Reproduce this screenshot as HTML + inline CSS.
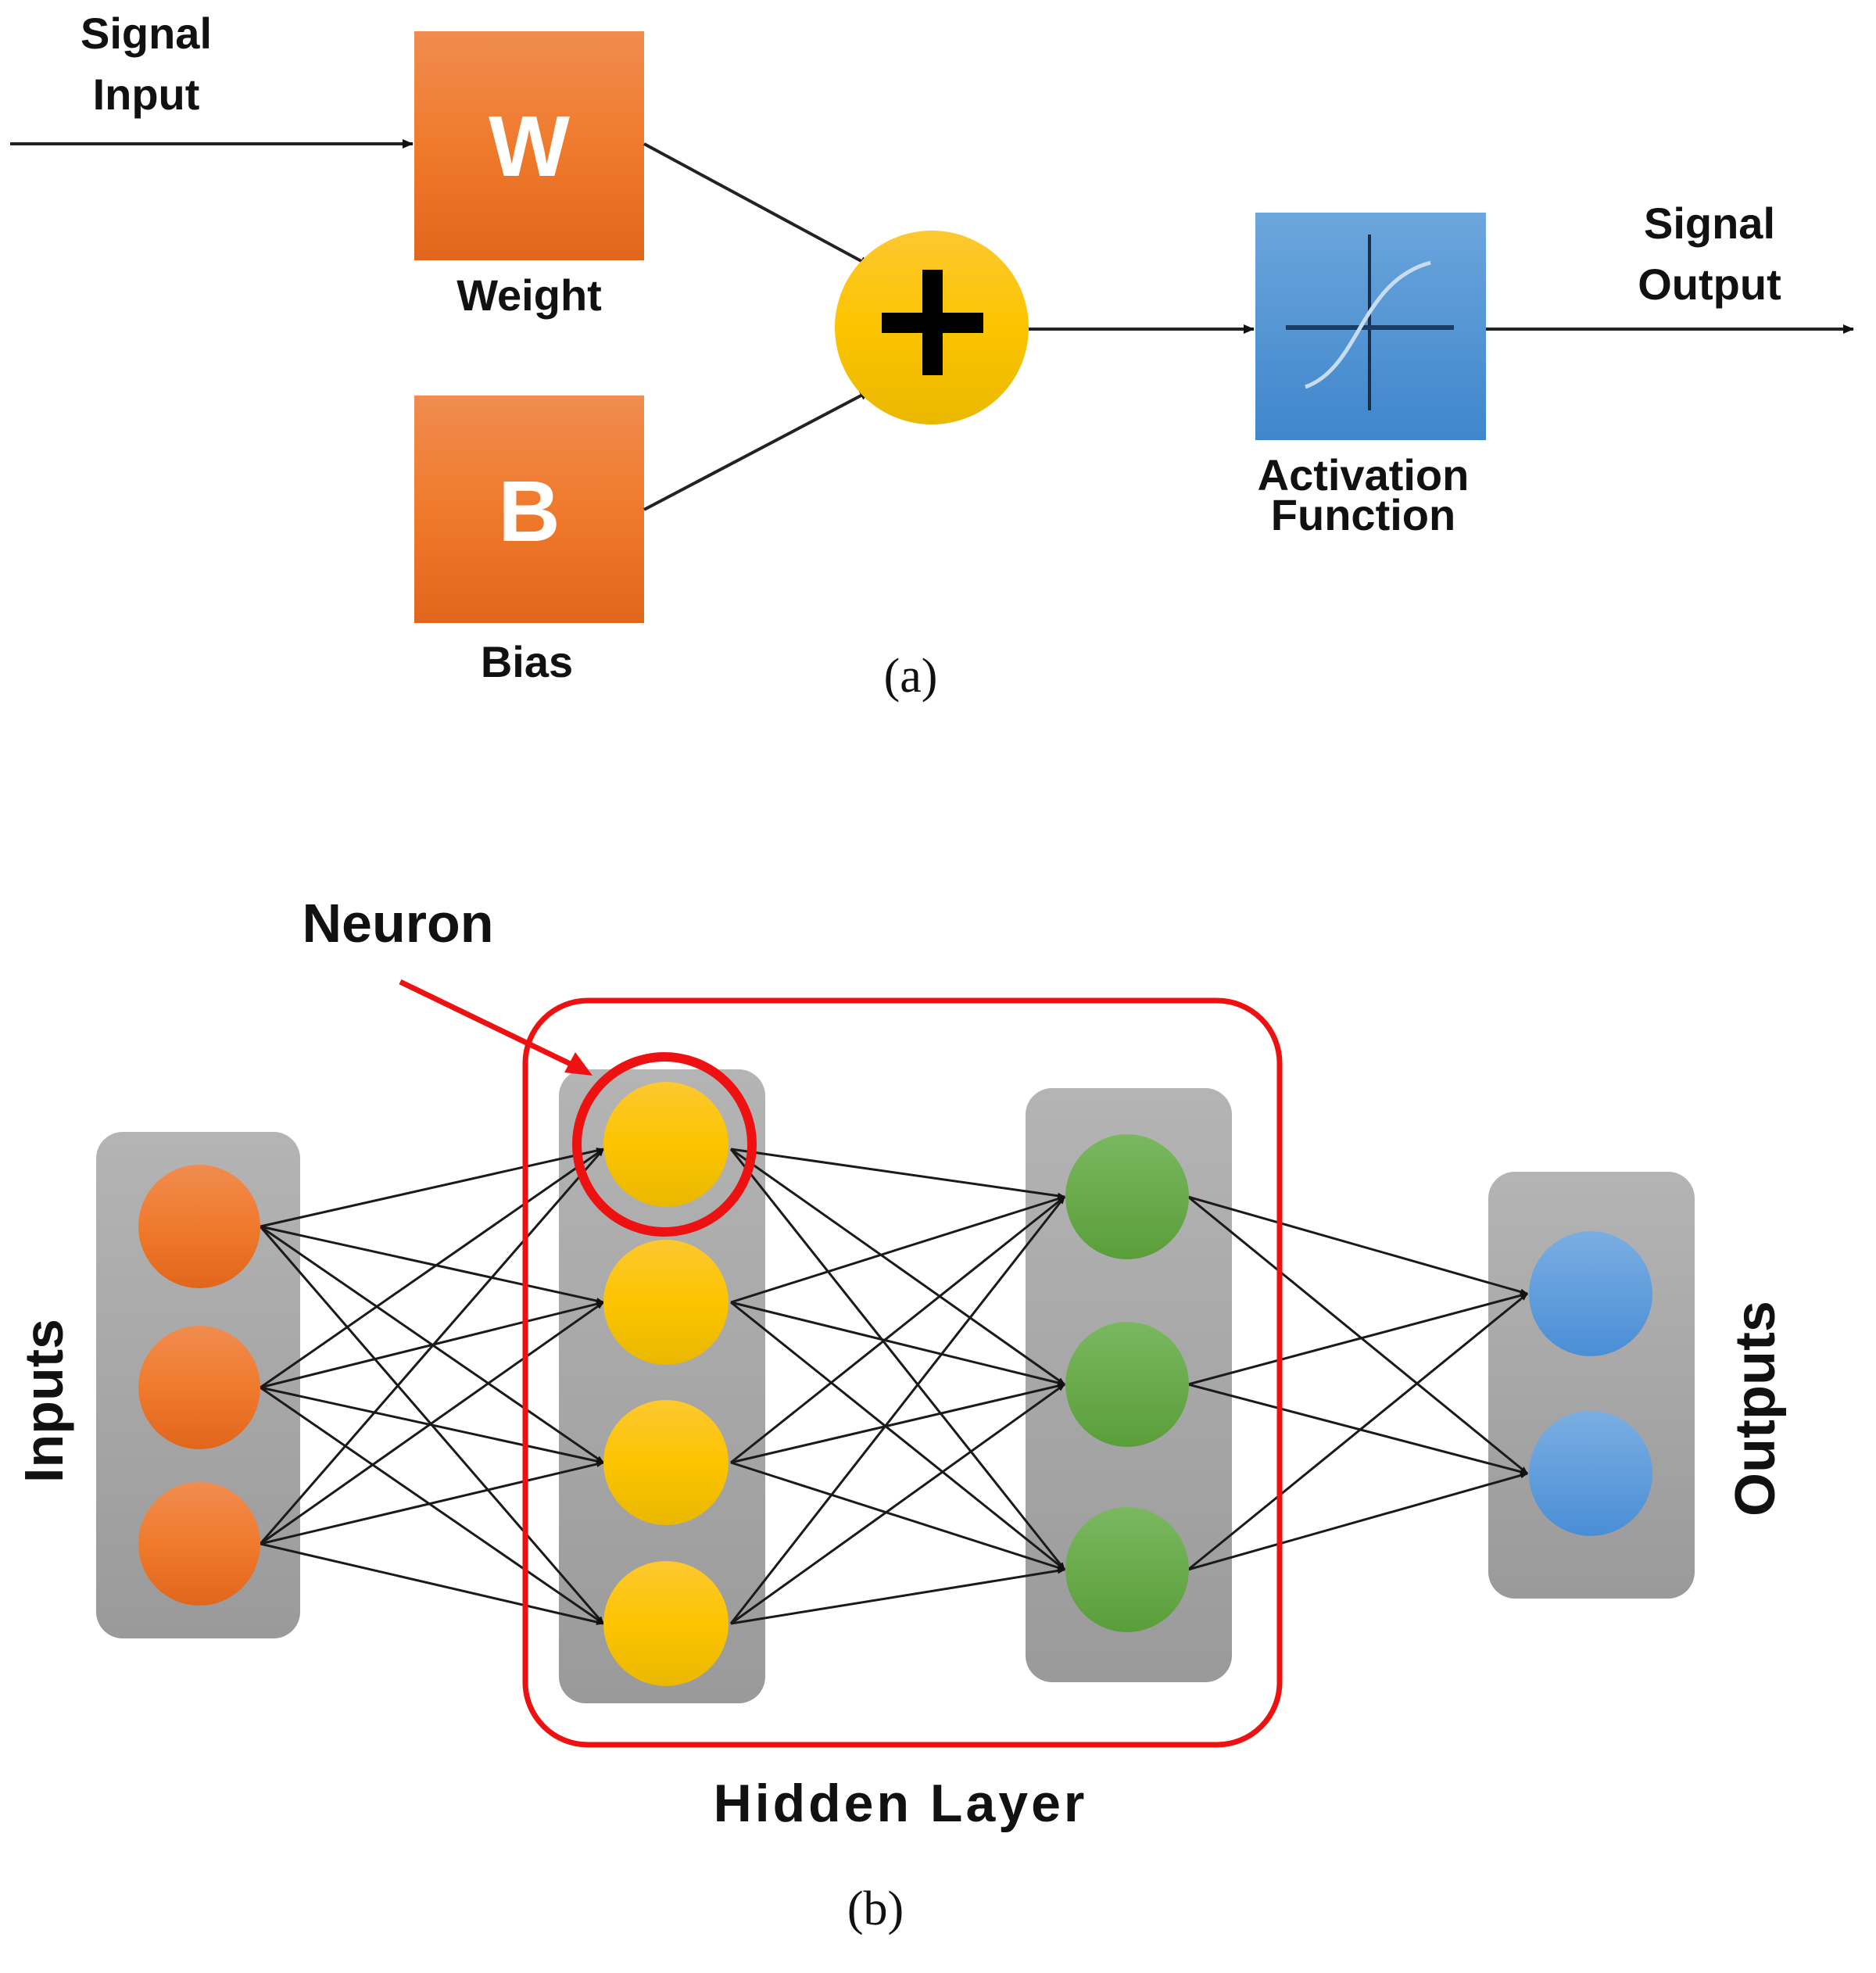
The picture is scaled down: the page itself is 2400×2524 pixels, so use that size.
<!DOCTYPE html>
<html><head><meta charset="utf-8"><style>
html,body{margin:0;padding:0;background:#fff;}
svg{display:block;}
text{font-family:"Liberation Sans",sans-serif;font-weight:bold;fill:#111;}
</style></head><body>
<svg width="2400" height="2524" viewBox="0 0 2400 2524" xmlns="http://www.w3.org/2000/svg">
<defs>
<linearGradient id="og" x1="0" y1="0" x2="0" y2="1"><stop offset="0" stop-color="#f08c50"/><stop offset="0.5" stop-color="#f07a2c"/><stop offset="1" stop-color="#e0661c"/></linearGradient>
<linearGradient id="yg" x1="0" y1="0" x2="0" y2="1"><stop offset="0" stop-color="#fcc830"/><stop offset="0.5" stop-color="#fcc400"/><stop offset="1" stop-color="#eab800"/></linearGradient>
<linearGradient id="bg" x1="0" y1="0" x2="0" y2="1"><stop offset="0" stop-color="#6ca6dc"/><stop offset="1" stop-color="#3f86cc"/></linearGradient>
<linearGradient id="gg" x1="0" y1="0" x2="0" y2="1"><stop offset="0" stop-color="#7ab860"/><stop offset="1" stop-color="#5a9e3a"/></linearGradient>
<linearGradient id="grg" x1="0" y1="0" x2="0" y2="1"><stop offset="0" stop-color="#b4b4b4"/><stop offset="1" stop-color="#9a9a9a"/></linearGradient>
<linearGradient id="ng" x1="0" y1="0" x2="0" y2="1"><stop offset="0" stop-color="#7aaee2"/><stop offset="1" stop-color="#4a8ed6"/></linearGradient>
<marker id="ar" markerWidth="10" markerHeight="10" refX="9" refY="5" orient="auto" markerUnits="userSpaceOnUse"><path d="M0,1 L10,5 L0,9 z" fill="#111"/></marker>
<marker id="ar2" markerWidth="14" markerHeight="12" refX="13" refY="6" orient="auto" markerUnits="userSpaceOnUse"><path d="M0,0 L14,6 L0,12 z" fill="#111"/></marker>
</defs>

<line x1="13" y1="184" x2="528" y2="184" stroke="#222" stroke-width="4" marker-end="url(#ar2)"/>
<rect x="530" y="40" width="294" height="293" fill="url(#og)"/>
<text x="677" y="225" font-size="110" text-anchor="middle" style="fill:#fff">W</text>
<rect x="530" y="506" width="294" height="291" fill="url(#og)"/>
<text x="677" y="692" font-size="110" text-anchor="middle" style="fill:#fff">B</text>
<line x1="824" y1="184" x2="1113" y2="340" stroke="#222" stroke-width="4" marker-end="url(#ar2)"/>
<line x1="824" y1="652" x2="1113" y2="500" stroke="#222" stroke-width="4" marker-end="url(#ar2)"/>
<ellipse cx="1192" cy="419" rx="124" ry="124" fill="url(#yg)"/>
<rect x="1180" y="345" width="26" height="135" fill="#000"/>
<rect x="1128" y="400" width="130" height="26" fill="#000"/>
<line x1="1316" y1="421" x2="1604" y2="421" stroke="#222" stroke-width="4" marker-end="url(#ar2)"/>
<rect x="1606" y="272" width="295" height="291" fill="url(#bg)"/>
<line x1="1752" y1="300" x2="1752" y2="525" stroke="#1a2e48" stroke-width="4"/>
<line x1="1645" y1="419" x2="1860" y2="419" stroke="#1a3d66" stroke-width="6"/>
<path d="M1670,495 C1740,470 1740,360 1830,336" stroke="#c8dcef" stroke-width="5" fill="none"/>
<line x1="1901" y1="421" x2="2371" y2="421" stroke="#222" stroke-width="4" marker-end="url(#ar2)"/>

<text x="187" y="62" font-size="56" text-anchor="middle">Signal</text>
<text x="187" y="140" font-size="56" text-anchor="middle">Input</text>
<text x="677" y="397" font-size="56" text-anchor="middle">Weight</text>
<text x="674" y="866" font-size="56" text-anchor="middle">Bias</text>
<text x="1744" y="627" font-size="56" text-anchor="middle">Activation</text>
<text x="1744" y="678" font-size="56" text-anchor="middle">Function</text>
<text x="2187" y="305" font-size="56" text-anchor="middle">Signal</text>
<text x="2187" y="383" font-size="56" text-anchor="middle">Output</text>
<text x="1165" y="885" font-size="62" text-anchor="middle" style="font-family:'Liberation Serif',serif;font-weight:normal">(a)</text>

<text x="509" y="1205" font-size="70" text-anchor="middle">Neuron</text>
<rect x="123" y="1448" width="261" height="648" rx="34" fill="url(#grg)"/>
<rect x="715" y="1368" width="264" height="811" rx="34" fill="url(#grg)"/>
<rect x="1312" y="1392" width="264" height="760" rx="34" fill="url(#grg)"/>
<rect x="1904" y="1499" width="264" height="546" rx="34" fill="url(#grg)"/>

<g stroke="#1a1a1a" stroke-width="3" marker-end="url(#ar)">
<line x1="333" y1="1569" x2="772" y2="1470"/><line x1="333" y1="1569" x2="772" y2="1666"/><line x1="333" y1="1569" x2="772" y2="1871"/><line x1="333" y1="1569" x2="772" y2="2077"/>
<line x1="333" y1="1775" x2="772" y2="1470"/><line x1="333" y1="1775" x2="772" y2="1666"/><line x1="333" y1="1775" x2="772" y2="1871"/><line x1="333" y1="1775" x2="772" y2="2077"/>
<line x1="333" y1="1975" x2="772" y2="1470"/><line x1="333" y1="1975" x2="772" y2="1666"/><line x1="333" y1="1975" x2="772" y2="1871"/><line x1="333" y1="1975" x2="772" y2="2077"/>
<line x1="935" y1="1470" x2="1362" y2="1531"/><line x1="935" y1="1470" x2="1362" y2="1771"/><line x1="935" y1="1470" x2="1362" y2="2008"/>
<line x1="935" y1="1666" x2="1362" y2="1531"/><line x1="935" y1="1666" x2="1362" y2="1771"/><line x1="935" y1="1666" x2="1362" y2="2008"/>
<line x1="935" y1="1871" x2="1362" y2="1531"/><line x1="935" y1="1871" x2="1362" y2="1771"/><line x1="935" y1="1871" x2="1362" y2="2008"/>
<line x1="935" y1="2077" x2="1362" y2="1531"/><line x1="935" y1="2077" x2="1362" y2="1771"/><line x1="935" y1="2077" x2="1362" y2="2008"/>
<line x1="1520" y1="1531" x2="1954" y2="1655"/><line x1="1520" y1="1531" x2="1954" y2="1885"/>
<line x1="1520" y1="1771" x2="1954" y2="1655"/><line x1="1520" y1="1771" x2="1954" y2="1885"/>
<line x1="1520" y1="2008" x2="1954" y2="1655"/><line x1="1520" y1="2008" x2="1954" y2="1885"/>
</g>

<g fill="url(#og)">
<ellipse cx="255" cy="1569" rx="78" ry="79"/><ellipse cx="255" cy="1775" rx="78" ry="79"/><ellipse cx="255" cy="1975" rx="78" ry="79"/>
</g>
<g fill="url(#yg)">
<ellipse cx="852" cy="1464" rx="80" ry="80"/><ellipse cx="852" cy="1666" rx="80" ry="80"/><ellipse cx="852" cy="1871" rx="80" ry="80"/><ellipse cx="852" cy="2077" rx="80" ry="80"/>
</g>
<g fill="url(#gg)">
<ellipse cx="1442" cy="1531" rx="79" ry="80"/><ellipse cx="1442" cy="1771" rx="79" ry="80"/><ellipse cx="1442" cy="2008" rx="79" ry="80"/>
</g>
<g fill="url(#ng)">
<ellipse cx="2035" cy="1655" rx="79" ry="80"/><ellipse cx="2035" cy="1885" rx="79" ry="80"/>
</g>

<rect x="672" y="1280" width="965" height="952" rx="80" fill="none" stroke="#ee1111" stroke-width="7"/>
<circle cx="850" cy="1464" r="112" fill="none" stroke="#ee1111" stroke-width="12"/>
<line x1="512" y1="1256" x2="740" y2="1366" stroke="#ee1111" stroke-width="7"/>
<path d="M758,1376 L722,1372 L736,1346 z" fill="#ee1111"/>

<text transform="translate(80,1792) rotate(-90)" font-size="70" text-anchor="middle">Inputs</text>
<text transform="translate(2270,1802) rotate(-90)" font-size="72" text-anchor="middle">Outputs</text>
<text x="1152" y="2330" font-size="68" text-anchor="middle" letter-spacing="4">Hidden  Layer</text>
<text x="1120" y="2462" font-size="62" text-anchor="middle" style="font-family:'Liberation Serif',serif;font-weight:normal">(b)</text>
</svg>
</body></html>
